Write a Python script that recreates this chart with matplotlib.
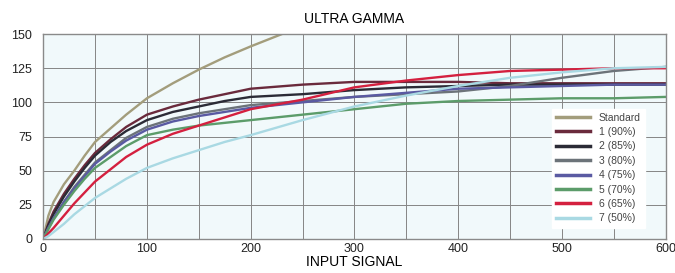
import numpy as np
import matplotlib
matplotlib.use('Agg')
import matplotlib.pyplot as plt

plt.rc('font', family='Liberation Sans', size=9)

# values
x_std = [0, 5, 10, 20, 30, 40, 50, 65, 80, 100, 125, 150, 175, 200, 230]
y_std = [0, 17, 27, 40, 50, 61, 71, 81, 91, 103, 114, 124, 133, 141, 150]

x = [0, 5, 10, 20, 30, 40, 50, 65, 80, 100, 125, 150, 175, 200,
     250, 300, 350, 400, 450, 500, 550, 600]
y_90 = [0, 11, 20, 33, 44, 54, 63, 73, 82, 91, 97, 102, 106, 110,
        113, 115, 115, 115, 114, 114, 114, 114]
y_85 = [0, 10, 18, 31, 42, 52, 61, 71, 79, 87, 93, 97, 101, 104,
        106, 109, 111, 112, 113, 113, 113, 113]
y_80 = [0, 8, 15, 27, 38, 47, 56, 65, 74, 82, 88, 92, 95, 98,
        101, 104, 106, 108, 112, 118, 123, 126]
y_75 = [0, 8, 15, 27, 37, 46, 55, 64, 72, 80, 86, 90, 93, 96,
        100, 104, 107, 110, 111, 112, 113, 113]
y_70 = [0, 7, 14, 25, 35, 44, 52, 60, 68, 76, 80, 83, 85, 87,
        91, 95, 99, 101, 102, 103, 103, 104]
y_65 = [0, 4, 8, 17, 26, 34, 42, 51, 60, 69, 77, 83, 89, 95,
        102, 111, 116, 120, 123, 124, 125, 125]
y_50 = [0, 2, 5, 11, 18, 24, 30, 37, 44, 52, 59, 65, 71, 76,
        87, 97, 105, 112, 118, 122, 125, 126]

names = ['1 (90%)', '2 (85%)', '3 (80%)', '4 (75%)', '5 (70%)', '6 (65%)', '7 (50%)']
series = [y_90, y_85, y_80, y_75, y_70, y_65, y_50]
colors = ['#6a2a3c', '#2b2b36', '#6c7379', '#5a5aa2', '#5c9c6a', '#d4203f', '#a9d9e3']

fig = plt.figure(figsize=(6.75, 2.73), dpi=100)
ax = fig.add_axes([0.064, 0.125, 0.922, 0.75])
ax.set_facecolor('#f1f9fb')

ax.plot(x_std, y_std, color='#a39d7c', lw=1.7, label='Standard')
for ys, c, n in zip(series, colors, names):
    ax.plot(x, ys, color=c, lw=1.7, label=n)

ax.set_xlim(0, 600)
ax.set_ylim(0, 150)
ax.set_xticks(np.arange(0, 601, 100))
ax.set_xticks(np.arange(0, 601, 50), minor=True)
ax.set_yticks(np.arange(0, 151, 25))
ax.grid(which='both', color='#858585', lw=0.7)
ax.tick_params(which='both', length=0, labelcolor='#222222')
ax.tick_params(axis='y', pad=8)
ax.tick_params(axis='x', pad=3)
for s in ax.spines.values():
    s.set_color('#8a8a8a')
    s.set_linewidth(1.0)

ax.set_title('ULTRA GAMMA', fontsize=10, pad=8)
ax.set_xlabel('INPUT SIGNAL', fontsize=10, labelpad=0)

leg = ax.legend(loc='lower right', bbox_to_anchor=(0.975, 0.03), fontsize=7.5,
                frameon=True, fancybox=False, framealpha=1, edgecolor='white',
                handlelength=3.3, handletextpad=0.8, labelspacing=0.42,
                borderpad=0.4)
for l in leg.get_lines():
    l.set_linewidth(2.5)
for t in leg.get_texts():
    t.set_color('#444444')

fig.savefig('out.png', dpi=100)
